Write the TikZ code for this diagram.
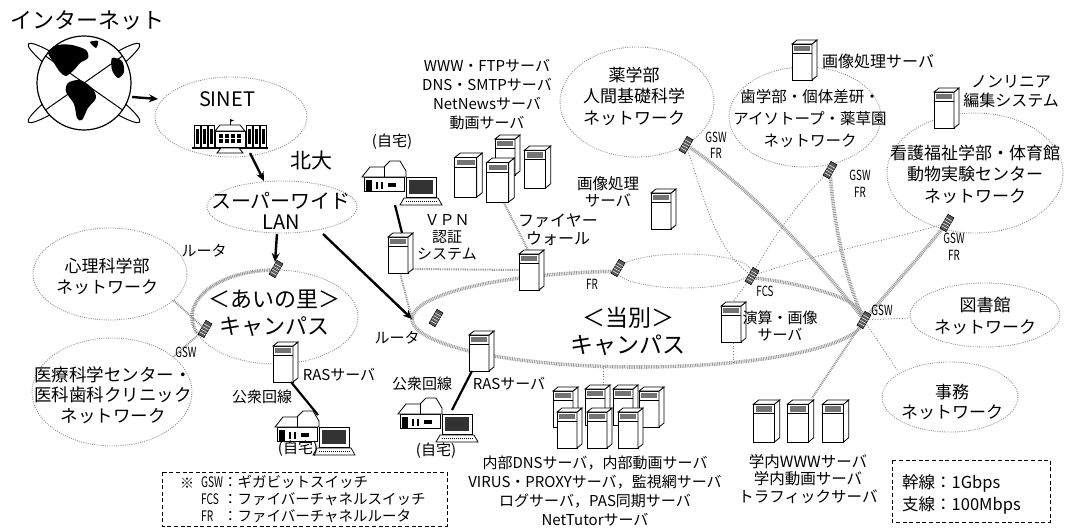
\documentclass[tikz,border=0pt]{standalone}
\usepackage{fontspec}
\usepackage{graphicx}
\setmainfont{Noto Sans CJK JP}
\usetikzlibrary{arrows.meta,calc}
\newcommand\fsz[2]{\fontsize{#1}{#2}\selectfont}
\newcommand\cnd[1]{\scalebox{0.7}[1]{#1}}
\tikzset{
  netring/.style={draw=black!45, line width=0.9pt, dash pattern=on 0.9pt off 1.3pt},
  trunk/.style={draw=black!38, line width=3.6pt, dash pattern=on 0.9pt off 0.8pt},
  spur/.style={draw=black!42, line width=2pt, dash pattern=on 0.9pt off 0.9pt},
  branch/.style={draw=black!50, line width=0.9pt, dash pattern=on 0.9pt off 1.8pt},
  bolt/.style={draw=black, line width=2.4pt, -{Stealth[length=9pt,width=8pt]}},
  wire/.style={draw=black, line width=2.2pt},
  lbl/.style={inner sep=0pt, align=center},
  tag/.style={inner sep=0pt, align=center, font=\fsz{14}{16}},
  legendbox/.style={draw=black, line width=1pt, dash pattern=on 4pt off 2.6pt},
  srv/.pic={
    \filldraw[fill=white, line width=0.8pt] (-12,-16) rectangle (8,20);
    \filldraw[fill=white, line width=0.8pt] (8,-16) -- (13,-20) -- (13,16) -- (8,20) -- cycle;
    \filldraw[fill=white, line width=0.8pt] (-12,-16) -- (-7,-20) -- (13,-20) -- (8,-16) -- cycle;
    \fill[black!55] (-10,-14) rectangle (6,-9);
    \draw[line width=0.6pt] (-12,-7) -- (8,-7);
  },
  rtr/.pic={
    \begin{scope}[rotate=60]
      \filldraw[fill=black!65, line width=0.5pt] (-8,-3.5) rectangle (8,3.5);
      \foreach \xx in {-5,-2,1,4} \draw[white, line width=0.5pt] (\xx,-3.5) -- (\xx,3.5);
    \end{scope}
  },
  home/.pic={
    \filldraw[fill=white, line width=0.8pt] (-38,-6) rectangle (2,8);
    \filldraw[fill=white, line width=0.8pt] (-40,-6) -- (-32,-16) -- (-18,-16) -- (-12,-22) -- (-2,-22) -- (4,-12) -- (4,-6) -- cycle;
    \draw[line width=0.6pt] (-18,-16) -- (-18,-6);
    \fill (-36,-3) rectangle (-30,8);
    \fill (-26,-1) rectangle (-24,6);
    \fill (-21,-1) rectangle (-19,6);
    \fill (-14,0) rectangle (-6,4);
    \filldraw[fill=white, line width=0.8pt] (4,-6) rectangle (34,14);
    \fill[black!80] (7,-3) rectangle (31,11);
    \filldraw[fill=white, line width=0.8pt] (2,15) -- (36,15) -- (40,22) -- (-2,22) -- cycle;
    \draw[line width=0.5pt, dash pattern=on 1pt off 1pt] (4,18.5) -- (36,18.5);
  },
  bldg/.pic={
    \foreach \xx in {-36,-29,-22,16,23,30}{
      \filldraw[fill=white, line width=0.7pt] (\xx,-11) rectangle ++(6,23);
      \fill (\xx+1.5,-7) rectangle ++(3,15);
    }
    \filldraw[fill=white, line width=0.8pt] (-15,-5) rectangle (15,12);
    \filldraw[fill=white, line width=0.8pt] (-15,-5) -- (-10,-11) -- (10,-11) -- (15,-5) -- cycle;
    \foreach \xx in {-12,-6,0,6}{\foreach \yy in {-2,3}{\fill (\xx+0.5,\yy) rectangle ++(4,3.5);}}
    \draw[line width=0.8pt] (0,-11) -- (0,-17);
    \fill (0,-17) -- (4,-15.5) -- (0,-14) -- cycle;
    \draw[line width=1.2pt] (-38,12) -- (38,12);
    \filldraw[fill=white, line width=0.8pt] (-9,12) -- (-13,17) -- (13,17) -- (9,12) -- cycle;
  },
}
\begin{document}
\begin{tikzpicture}[x=1pt,y=-1pt]
\useasboundingbox (0,0) rectangle (1067,527);

% ---------- anchor points ----------
\coordinate (globe) at (84,83);
\coordinate (globeE) at (132,97);
\coordinate (sinetW) at (158,99);
\coordinate (bldg) at (230,136);
\coordinate (bldgS) at (250,153);
\coordinate (lanN) at (264,181);
\coordinate (lanS) at (277,234);
\coordinate (lanSE) at (323,234);
\coordinate (ainoR) at (276,269);
\coordinate (ainoRin) at (275,262);
\coordinate (aiL) at (205,329);
\coordinate (shinriPt) at (173,300);
\coordinate (iryoPt) at (173,357);
\coordinate (hub) at (412,319);
\coordinate (hubR) at (436,318);
\coordinate (gsw) at (864,320);
\coordinate (frR) at (618,268);
\coordinate (fcsR) at (752,276);
\coordinate (yakuR) at (686,145);
\coordinate (shiR) at (830,170);
\coordinate (kanR) at (947,223);
\coordinate (vpn) at (400,253);
\coordinate (fw) at (531,270);
\coordinate (ras1) at (285,362);
\coordinate (ras2) at (481,351);
\coordinate (img2) at (663,209);
\coordinate (ensan) at (733,322);
\coordinate (img1) at (804,60);
\coordinate (nonlin) at (946,108);
\coordinate (home1) at (315,433);
\coordinate (home2) at (402,183);
\coordinate (home3) at (438,420);
\coordinate (libW) at (910,318);
\coordinate (jimuNW) at (897,370);
\coordinate (gakuN) at (812,398);
\coordinate (clusterN) at (603,388);
\coordinate (tobetsuS) at (603,366);
\coordinate (ensanS) at (733,364);

% ---------- network clouds ----------
\draw[netring] (231,117) ellipse [x radius=76, y radius=40];
\draw[netring] (282,207) ellipse [x radius=75, y radius=26];
\draw[netring] (110,274) ellipse [x radius=77, y radius=46];
\draw[netring] (275,317) ellipse [x radius=83, y radius=47];
\draw[netring] (112,392) ellipse [x radius=80, y radius=54];
\draw[netring] (637,102) ellipse [x radius=77, y radius=55];
\draw[netring] (805,117) ellipse [x radius=76, y radius=50];
\draw[netring] (975,173) ellipse [x radius=88, y radius=60];
\draw[netring] (985,315) ellipse [x radius=75, y radius=32];
\draw[netring] (950,397) ellipse [x radius=68, y radius=35];
\draw[netring] (684,271) ellipse [x radius=67, y radius=17];

% ---------- 1Gbps trunk of the Tobetsu campus ----------
\draw[trunk] plot[smooth, domain=95.6:180, samples=30] ({638+226*cos(\x)},{319-48*sin(\x)});
\draw[trunk] plot[smooth, domain=180:360, samples=60] ({638+226*cos(\x)},{319-48*sin(\x)});
\draw[trunk] plot[smooth, domain=0:60, samples=20] ({638+226*cos(\x)},{319-48*sin(\x)});
\draw[trunk] plot[smooth, domain=90:200, samples=30] ({275+83*cos(\x)},{317-47*sin(\x)});
\draw[trunk] (yakuR) .. controls (740,180) and (810,250) .. (gsw);
\draw[trunk] (shiR) .. controls (833,220) and (845,280) .. (gsw);
\draw[trunk] (kanR) .. controls (925,250) and (890,290) .. (gsw);
\draw[spur] (aiL) -- (shinriPt);
\draw[spur] (aiL) -- (iryoPt);
\draw[spur] (hub) -- ($(vpn)+(0,20)$);
\draw[spur] ($(vpn)+(13,16)$) -- ($(fw)+(-12,0)$);
\draw[spur] (503,201) -- ($(fw)+(-3,-20)$);
\draw[spur] (gsw) -- (gakuN);

% ---------- 100Mbps branches ----------
\draw[branch] (yakuR) .. controls (705,200) and (715,250) .. (fcsR);
\draw[branch] (shiR) .. controls (800,200) and (770,240) .. (fcsR);
\draw[branch] (kanR) .. controls (890,240) and (810,255) .. (fcsR);
\draw[branch] (fcsR) -- ($(ensan)+(0,-20)$);
\draw[branch] ($(ensan)+(0,21)$) -- (ensanS);
\draw[branch] (clusterN) -- (tobetsuS);
\draw[branch] (gsw) -- (libW);
\draw[branch] (gsw) -- (jimuNW);

% ---------- globe ----------
\draw[line width=1pt, rotate around={35:(globe)}] (globe) ellipse [x radius=68, y radius=9];
\draw[line width=1pt, rotate around={-35:(globe)}] (globe) ellipse [x radius=68, y radius=9];
\filldraw[fill=white, line width=1.2pt] (globe) circle [radius=47];
\fill plot[smooth cycle] coordinates {(48,52) (58,45) (72,45) (86,50) (88,58) (80,63) (74,70) (66,76) (60,72) (54,63)};
\fill plot[smooth cycle] coordinates {(68,83) (80,80) (92,88) (96,98) (88,108) (82,120) (77,118) (74,104) (66,92)};
\fill plot[smooth cycle] coordinates {(112,58) (122,61) (124,72) (118,78) (112,70)};
\fill plot[smooth cycle] coordinates {(90,42) (98,41) (96,48)};
\begin{scope}
  \clip (globe) circle [radius=47];
  \draw[line width=1pt, rotate around={35:(globe)}] (16,83) -- (152,83);
  \draw[line width=1pt, rotate around={-35:(globe)}] (16,83) -- (152,83);
\end{scope}

% ---------- equipment ----------
\pic at (bldg) {bldg};
\pic at (vpn) {srv};
\pic at (507,155) {srv};
\pic[scale=1.1] at (468,175) {srv};
\pic[scale=1.05] at (537,167) {srv};
\pic[scale=1.1] at (500,180) {srv};
\pic at (fw) {srv};
\pic at (ras1) {srv};
\pic at (ras2) {srv};
\pic at (img2) {srv};
\pic at (ensan) {srv};
\pic at (img1) {srv};
\pic at (nonlin) {srv};
\pic at (565,407) {srv};
\pic at (597,405) {srv};
\pic at (625,405) {srv};
\pic at (651,407) {srv};
\pic at (569,428) {srv};
\pic at (599,428) {srv};
\pic at (630,428) {srv};
\pic[scale=1.05] at (766,421) {srv};
\pic[scale=1.05] at (800,421) {srv};
\pic[scale=1.05] at (835,421) {srv};
\pic at (home1) {home};
\pic at (home2) {home};
\pic at (home3) {home};
\foreach \r in {ainoR,aiL,hubR,frR,fcsR,gsw,yakuR,shiR,kanR} \pic at (\r) {rtr};

% ---------- wide-area and dial-up links ----------
\draw[bolt] (globeE) -- (sinetW);
\draw[bolt] (bldgS) -- (lanN);
\draw[bolt] (lanS) -- (ainoRin);
\draw[bolt] (lanSE) -- (hub);
\draw[wire] ($(home2)+(-7,22)$) -- ($(vpn)+(2,-20)$);
\draw[wire] ($(ras1)+(6,20)$) -- ($(home1)+(3,-18)$);
\draw[wire] ($(ras2)+(-9,20)$) -- ($(home3)+(14,-10)$);

% ---------- labels ----------
\node[lbl, font=\fsz{22}{26}] (tInet) at (87,20) {インターネット};
\node[lbl, font=\fsz{20}{24}] (tSinet) at (227,99) {SINET};
\node[lbl, font=\fsz{21}{24}] (tHokudai) at (311,161) {北大};
\node[lbl, font=\fsz{20}{21}] (tLan) at (281,211) {スーパーワイド\\LAN};
\node[lbl, font=\fsz{15}{17}] (tRt1) at (204,251) {ルータ};
\node[lbl, font=\fsz{17}{21}] (tShinri) at (107,276) {心理科学部\\ネットワーク};
\node[lbl, font=\fsz{22}{27}] (tAino) at (274,313) {＜あいの里＞\\キャンパス};
\node[tag] (tGsw1) at (186,352) {\cnd{GSW}};
\node[lbl, font=\fsz{17.5}{20.5}] (tIryo) at (113,395) {医療科学センター・\\医科歯科クリニック\\ネットワーク};
\node[lbl, font=\fsz{15}{17}] (tRas1) at (339,375) {RASサーバ};
\node[lbl, font=\fsz{15}{17}] (tLine1) at (262,397) {公衆回線};
\node[lbl, font=\fsz{15}{17}] (tHome1) at (298,449) {(自宅)};
\node[lbl, font=\fsz{15}{17}] (tHome2) at (392,142) {(自宅)};
\node[lbl, font=\fsz{15}{17}] (tVpn) at (447,237) {ＶＰＮ\\認証\\システム};
\node[lbl, font=\fsz{15}{19}] (tWww) at (487,94) {WWW・FTPサーバ\\DNS・SMTPサーバ\\NetNewsサーバ\\動画サーバ};
\node[lbl, font=\fsz{16}{18}] (tFw) at (558,230) {ファイヤー\\ウォール};
\node[lbl, font=\fsz{15.5}{17}] (tImg2) at (608,192) {画像処理\\サーバ};
\node[lbl, font=\fsz{15}{17}] (tRt2) at (397,338) {ルータ};
\node[lbl, font=\fsz{15}{17}] (tLine2) at (422,384) {公衆回線};
\node[lbl, font=\fsz{15}{17}] (tRas2) at (509,384) {RASサーバ};
\node[lbl, font=\fsz{15}{17}] (tHome3) at (436,451) {(自宅)};
\node[tag] (tFr) at (592,284) {\cnd{FR}};
\node[lbl, font=\fsz{23}{27}] (tTobetsu) at (628,331) {＜当別＞\\キャンパス};
\node[lbl, font=\fsz{15}{19}] (tInner) at (595,491) {内部DNSサーバ，内部動画サーバ\\VIRUS・PROXYサーバ，監視網サーバ\\ログサーバ，PAS同期サーバ\\NetTutorサーバ};
\node[tag] (tFcs) at (765,291) {\cnd{FCS}};
\node[lbl, font=\fsz{15}{17}] (tEnsan) at (780,326) {演算・画像\\サーバ};
\node[tag] (tGsw2) at (882,310) {\cnd{GSW}};
\node[lbl, font=\fsz{17}{22}] (tLib) at (985,316) {図書館\\ネットワーク};
\node[lbl, font=\fsz{17}{20}] (tJimu) at (952,402) {事務\\ネットワーク};
\node[lbl, font=\fsz{15.5}{17.5}] (tGaku) at (808,479) {学内WWWサーバ\\学内動画サーバ\\トラフィックサーバ};
\node[lbl, font=\fsz{16}{19}, anchor=west] (tImg1) at (822,61) {画像処理サーバ};
\node[lbl, font=\fsz{16}{19}] (tNonlin) at (1011,92) {ノンリニア\\編集システム};
\node[lbl, font=\fsz{17}{21.5}] (tYaku) at (634,96) {薬学部\\人間基礎科学\\ネットワーク};
\node[lbl, font=\fsz{15.5}{22}] (tShi) at (810,119) {歯学部・個体差研・\\アイソトープ・薬草園\\ネットワーク};
\node[lbl, font=\fsz{17}{21.5}] (tKango) at (975,174) {看護福祉学部・体育館\\動物実験センター\\ネットワーク};
\node[tag] (tGf1) at (716,145) {\cnd{GSW}\\\cnd{FR}};
\node[tag, font=\fsz{14}{17}] (tGf2) at (860,184) {\cnd{GSW}\\\cnd{FR}};
\node[tag, font=\fsz{14}{17}] (tGf3) at (954,247) {\cnd{GSW}\\\cnd{FR}};

% ---------- legends ----------
\draw[legendbox] (162,472) rectangle (447,526);
\node[lbl, font=\fsz{14}{17}] (tNote) at (187,483) {※};
\node[lbl, font=\fsz{14.5}{17}, anchor=north west] (tAbbr) at (201,474.5)
  {\begin{tabular}{@{}l@{}l@{}}\cnd{GSW}&：ギガビットスイッチ\\
   \cnd{FCS}&：ファイバーチャネルスイッチ\\
   \cnd{FR}&：ファイバーチャネルルータ\end{tabular}};
\draw[legendbox] (892,460) rectangle (1050,522);
\node[lbl, font=\fsz{16.5}{20}, anchor=west] (tKansen) at (902,483) {幹線：1Gbps};
\node[lbl, font=\fsz{16.5}{20}, anchor=west] (tShisen) at (902,505) {支線：100Mbps};
\end{tikzpicture}
\end{document}
